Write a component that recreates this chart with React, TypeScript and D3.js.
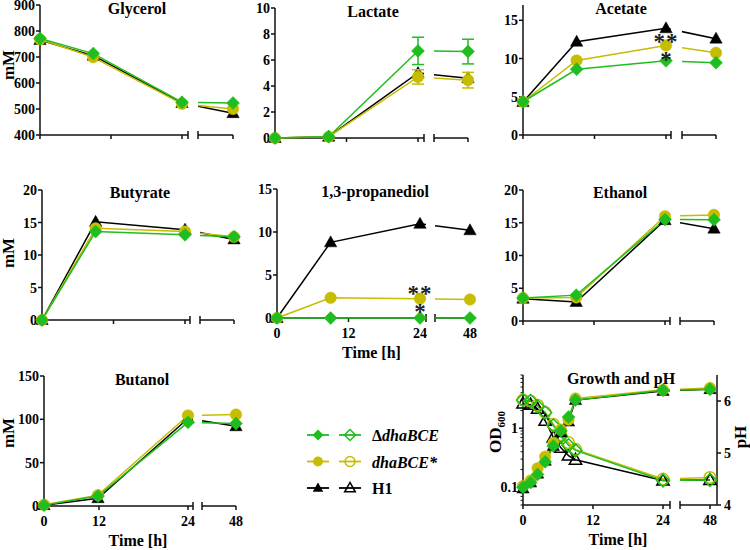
import React from 'react';
import * as d3 from 'd3';

const GREEN = '#1fbd1f';
const YELLOW = '#c6bd00';
const BLACK = '#000000';
const FONT = '"Liberation Serif", "Times New Roman", serif';

// ---------- data ----------
const hours = [0, 9, 24, 48];
const xTickVals = [0, 12, 24, 48];

const glyTicks = [400, 500, 600, 700, 800, 900];
const glyH1 = [765, 705, 523, 484];
const glyStar = [768, 699, 520, 500];
const glyDelta = [771, 713, 526, 523];

const lacTicks = [0, 2, 4, 6, 8, 10];
const lacH1 = [0, 0.1, 5.0, 4.6];
const lacStar = [0, 0.1, 4.7, 4.45];
const lacStarErr = [0, 0, 0.55, 0.6];
const lacDelta = [0, 0.1, 6.7, 6.65];
const lacDeltaErr = [0, 0, 1.05, 0.95];

const aceTicks = [0, 5, 10, 15];
const aceH1 = [4.3, 12.2, 13.95, 12.6];
const aceStar = [4.35, 9.75, 11.7, 10.75];
const aceDelta = [4.35, 8.6, 9.7, 9.45];

const butyTicks = [0, 5, 10, 15, 20];
const butyH1 = [0, 15.1, 13.9, 12.4];
const butyStar = [0, 14.1, 13.6, 12.8];
const butyDelta = [0, 13.6, 13.1, 12.8];

const pdoTicks = [0, 5, 10, 15];
const pdoH1 = [0, 8.8, 10.95, 10.2];
const pdoStar = [0, 2.35, 2.25, 2.15];
const pdoDelta = [0, 0, 0, 0];

const ethTicks = [0, 5, 10, 15, 20];
const ethH1 = [3.4, 2.9, 15.4, 14.1];
const ethStar = [3.5, 3.6, 16.0, 16.2];
const ethDelta = [3.5, 3.95, 15.5, 15.45];

const butTicks = [0, 50, 100, 150];
const butH1 = [1, 9, 101, 92];
const butStar = [1.5, 12.5, 104.5, 105.5];
const butDelta = [1, 11.5, 96.5, 95.2];

const growthTimes = [0, 1.3, 2.5, 3.8, 5.2, 6.5, 7.8, 9, 24, 48];
const odH1 = [0.095, 0.12, 0.17, 0.28, 0.5, 0.85, 1.3, 3.0, 4.3, 4.6];
const odStar = [0.105, 0.13, 0.21, 0.33, 0.56, 0.95, 1.4, 3.2, 4.5, 4.8];
const odDelta = [0.1, 0.12, 0.165, 0.27, 0.5, 0.9, 1.55, 3.0, 4.4, 4.6];
const phH1 = [5.95, 5.93, 5.85, 5.62, 5.3, 5.1, 4.95, 4.87, 4.47, 4.48];
const phStar = [6.02, 6.0, 5.92, 5.78, 5.55, 5.35, 5.2, 5.07, 4.5, 4.53];
const phDelta = [6.02, 6.0, 5.9, 5.78, 5.53, 5.32, 5.15, 5.05, 4.47, 4.48];
const odTicks = [0.1, 1];
const odMinor = [0.05, 0.06, 0.07, 0.08, 0.09, 0.2, 0.3, 0.4, 0.5, 0.6, 0.7, 0.8, 0.9, 2, 3, 4, 5, 6, 7, 8];
const phTicks = [4, 5, 6];

// ---------- helpers ----------
type Shape = 'diamond' | 'circle' | 'triangle';
const shapePath = (s: Shape): string => {
  if (s === 'diamond') return 'M0,-6.5L6.5,0L0,6.5L-6.5,0Z';
  if (s === 'circle') return d3.symbol(d3.symbolCircle, 105)() as string;
  return 'M0,-6.5L6.2,4.5L-6.2,4.5Z';
};

interface Ax { x0: number; x24: number; s1End: number; s2Start: number; x48: number; s2End: number; yB: number; yT: number; t12?: number; }
interface Ser { color: string; shape: Shape; values: number[]; times: number[]; err?: number[]; open?: boolean; right?: boolean; }

function makeX(ax: Ax) {
  const s1 = d3.scaleLinear().domain([0, 24]).range([ax.x0, ax.x24]);
  const pxh = (ax.x24 - ax.x0) / 24;
  const s2 = d3.scaleLinear().domain([48 - (ax.x48 - ax.s2Start) / pxh, 48]).range([ax.s2Start, ax.x48]);
  return (t: number) => (t <= 24.5 ? s1(t) : s2(t));
}

function std(color: string, shape: Shape, values: number[], err?: number[]): Ser {
  return { color, shape, values, times: hours, err };
}

interface PanelProps {
  id: string; ax: Ax; title: string; titleX: number; titleY: number;
  yDomain: [number, number]; yTicks: number[]; series: Ser[];
  xLabels?: boolean; mM?: number; log?: boolean;
  rightDomain?: [number, number];
}

function Panel(p: PanelProps) {
  const { ax } = p;
  const xf = makeX(ax);
  const tickX = (t: number) => (t === 12 && ax.t12 !== undefined ? ax.t12 : xf(t));
  const y = p.log
    ? d3.scaleLog().domain(p.yDomain).range([ax.yB, ax.yT])
    : d3.scaleLinear().domain(p.yDomain).range([ax.yB, ax.yT]);
  const yr = p.rightDomain ? d3.scaleLinear().domain(p.rightDomain).range([ax.yB, ax.yT]) : null;
  const sy = (s: Ser) => (s.right && yr ? yr : y);
  const lineFor = (s: Ser) =>
    d3.line<number>().x((_, i) => xf(s.times[i])).y((d) => sy(s)(d) as number)(s.values) as string;
  const axStyle = { stroke: '#111', strokeWidth: 1.5, fill: 'none' };
  const txt = { fontFamily: FONT, fontWeight: 700 as const, fill: '#000' };
  return (
    <g>
      <defs>
        <clipPath id={`c1-${p.id}`}>
          <rect x={ax.x0 - 30} y={0} width={ax.s1End - ax.x0 + 30} height={550} />
        </clipPath>
        <clipPath id={`c2-${p.id}`}>
          <rect x={ax.s2Start} y={0} width={120} height={550} />
        </clipPath>
      </defs>
      <line x1={ax.x0} x2={ax.x0} y1={ax.yB} y2={ax.yT} style={axStyle} />
      {p.yTicks.map((t) => (
        <g key={t}>
          <line x1={ax.x0 - 4} x2={ax.x0} y1={y(t) as number} y2={y(t) as number} style={axStyle} />
          <text x={ax.x0 - 5} y={(y(t) as number) + 5} textAnchor="end" fontSize={14} style={txt}>
            {String(t)}
          </text>
        </g>
      ))}
      {p.log &&
        odMinor.map((t) => (
          <line key={t} x1={ax.x0 - 2.5} x2={ax.x0} y1={y(t) as number} y2={y(t) as number} style={{ ...axStyle, strokeWidth: 1 }} />
        ))}
      {yr && (
        <g>
          <line x1={ax.s2End} x2={ax.s2End} y1={ax.yB} y2={ax.yT} style={axStyle} />
          {phTicks.map((t) => (
            <g key={t}>
              <line x1={ax.s2End} x2={ax.s2End + 4} y1={yr(t)} y2={yr(t)} style={axStyle} />
              <text x={ax.s2End + 7} y={yr(t) + 5} fontSize={14} style={txt}>
                {String(t)}
              </text>
            </g>
          ))}
        </g>
      )}
      <line x1={ax.x0} x2={ax.s1End} y1={ax.yB} y2={ax.yB} style={axStyle} />
      <line x1={ax.s2Start} x2={ax.s2End} y1={ax.yB} y2={ax.yB} style={axStyle} />
      <line x1={ax.s1End} x2={ax.s1End} y1={ax.yB - 4} y2={ax.yB + 4} style={axStyle} />
      <line x1={ax.s2Start} x2={ax.s2Start} y1={ax.yB - 4} y2={ax.yB + 4} style={axStyle} />
      {xTickVals.map((t) => (
        <g key={t}>
          <line x1={tickX(t)} x2={tickX(t)} y1={ax.yB} y2={ax.yB + 4} style={axStyle} />
          {p.xLabels && (
            <text x={tickX(t)} y={ax.yB + 20} textAnchor="middle" fontSize={14} style={txt}>
              {String(t)}
            </text>
          )}
        </g>
      ))}
      {p.xLabels && (
        <text x={(ax.x0 + ax.s2End) / 2 - 2} y={ax.yB + 40} textAnchor="middle" fontSize={16} style={txt}>
          Time [h]
        </text>
      )}
      {p.mM !== undefined && (
        <text transform={`translate(14,${p.mM}) rotate(-90)`} textAnchor="middle" fontSize={17} style={txt}>
          mM
        </text>
      )}
      {p.series.map((s, i) => (
        <g key={`l${i}`}>
          <path d={lineFor(s)} stroke={s.color} strokeWidth={1.5} fill="none" clipPath={`url(#c1-${p.id})`} />
          <path d={lineFor(s)} stroke={s.color} strokeWidth={1.5} fill="none" clipPath={`url(#c2-${p.id})`} />
        </g>
      ))}
      {p.series.map((s, i) => (
        <g key={`m${i}`}>
          {s.err &&
            s.values.map((v, j) => {
              const e = s.err![j];
              if (!e) return null;
              const cx = xf(s.times[j]);
              const y1 = sy(s)(v + e) as number;
              const y2 = sy(s)(v - e) as number;
              return (
                <g key={j} stroke={s.color} strokeWidth={1.5}>
                  <line x1={cx} x2={cx} y1={y1} y2={y2} />
                  <line x1={cx - 6} x2={cx + 6} y1={y1} y2={y1} />
                  <line x1={cx - 6} x2={cx + 6} y1={y2} y2={y2} />
                </g>
              );
            })}
          {s.values.map((v, j) => (
            <path
              key={j}
              d={shapePath(s.shape)}
              transform={`translate(${xf(s.times[j])},${sy(s)(v)})`}
              fill={s.open ? 'none' : s.color}
              stroke={s.color}
              strokeWidth={s.open ? 1.5 : 0.5}
            />
          ))}
        </g>
      ))}
      <text x={p.titleX} y={p.titleY} textAnchor="middle" fontSize={16} style={txt}>
        {p.title}
      </text>
    </g>
  );
}

function Stars({ x, y1, y2 }: { x: number; y1: number; y2: number }) {
  const st = { fontFamily: FONT, fontSize: 23, fontWeight: 700 as const, fill: '#222' };
  return (
    <g>
      <text x={x} y={y1 + 11} textAnchor="middle" letterSpacing={1} style={st}>**</text>
      <text x={x} y={y2 + 11} textAnchor="middle" style={st}>*</text>
    </g>
  );
}

const legendItems = [
  { label: 'dhaBCE', delta: true, color: GREEN, shape: 'diamond' as Shape },
  { label: 'dhaBCE*', delta: false, color: YELLOW, shape: 'circle' as Shape },
  { label: 'H1', delta: false, color: BLACK, shape: 'triangle' as Shape },
];

function Legend() {
  return (
    <g>
      {legendItems.map((it, i) => {
        const cy = 435 + i * 26.5;
        return (
          <g key={it.label}>
            <line x1={307} x2={329} y1={cy} y2={cy} stroke={it.color} strokeWidth={1.8} />
            <path d={shapePath(it.shape)} transform={`translate(318,${cy}) scale(0.85)`} fill={it.color} />
            <line x1={339} x2={361} y1={cy} y2={cy} stroke={it.color} strokeWidth={1.8} />
            <path d={shapePath(it.shape)} transform={`translate(350,${cy}) scale(0.85)`} fill="none" stroke={it.color} strokeWidth={1.8} />
            <text x={372} y={cy + 6} fontSize={16} style={{ fontFamily: FONT, fontWeight: 700 }}>
              {it.delta && <tspan fontStyle="normal">Δ</tspan>}
              <tspan fontStyle={it.label === 'H1' ? 'normal' : 'italic'}>{it.label}</tspan>
            </text>
          </g>
        );
      })}
    </g>
  );
}

function trio(h1: number[], st: number[], de: number[], stErr?: number[], deErr?: number[]): Ser[] {
  return [std(BLACK, 'triangle', h1), std(YELLOW, 'circle', st, stErr), std(GREEN, 'diamond', de, deErr)];
}

export default function App() {
  const growthSeries: Ser[] = [
    { color: BLACK, shape: 'triangle', values: phH1, times: growthTimes, open: true, right: true },
    { color: YELLOW, shape: 'circle', values: phStar, times: growthTimes, open: true, right: true },
    { color: GREEN, shape: 'diamond', values: phDelta, times: growthTimes, open: true, right: true },
    { color: BLACK, shape: 'triangle', values: odH1, times: growthTimes },
    { color: YELLOW, shape: 'circle', values: odStar, times: growthTimes },
    { color: GREEN, shape: 'diamond', values: odDelta, times: growthTimes },
  ];
  return (
    <svg width={750} height={550} style={{ position: 'absolute', left: 0, top: 0, background: '#fff' }}>
      <rect width={750} height={550} fill="#fff" />
      <Panel id="gly" ax={{ x0: 40, x24: 182, s1End: 188, s2Start: 198, x48: 233, s2End: 233, yB: 135, yT: 5 }}
        title="Glycerol" titleX={137} titleY={14} yDomain={[400, 900]} yTicks={glyTicks}
        series={trio(glyH1, glyStar, glyDelta)} mM={65} />
      <Panel id="lac" ax={{ x0: 275, x24: 418, s1End: 424, s2Start: 434, x48: 468, s2End: 468, yB: 138, yT: 8 }}
        title="Lactate" titleX={373} titleY={17} yDomain={[0, 10]} yTicks={lacTicks}
        series={trio(lacH1, lacStar, lacDelta, lacStarErr, lacDeltaErr)} />
      <Panel id="ace" ax={{ x0: 523, x24: 666, s1End: 671, s2Start: 682, x48: 716, s2End: 716, yB: 135, yT: 5 }}
        title="Acetate" titleX={621} titleY={14} yDomain={[0, 17]} yTicks={aceTicks}
        series={trio(aceH1, aceStar, aceDelta)} />
      <Stars x={666} y1={38} y2={56} />
      <Panel id="buty" ax={{ x0: 42, x24: 185, s1End: 190, s2Start: 200, x48: 234, s2End: 234, yB: 320, yT: 190 }}
        title="Butyrate" titleX={140} titleY={198} yDomain={[0, 20]} yTicks={butyTicks}
        series={trio(butyH1, butyStar, butyDelta)} mM={253} />
      <Panel id="pdo" ax={{ x0: 277, x24: 420, s1End: 426, s2Start: 435, x48: 470, s2End: 470, yB: 318, yT: 189 }}
        title="1,3-propanediol" titleX={375} titleY={197} yDomain={[0, 15]} yTicks={pdoTicks}
        series={trio(pdoH1, pdoStar, pdoDelta)} xLabels />
      <Stars x={420} y1={290} y2={308} />
      <Panel id="eth" ax={{ x0: 523, x24: 665, s1End: 670, s2Start: 680, x48: 714, s2End: 714, yB: 321, yT: 190 }}
        title="Ethanol" titleX={620} titleY={198} yDomain={[0, 20]} yTicks={ethTicks}
        series={trio(ethH1, ethStar, ethDelta)} />
      <Panel id="but" ax={{ x0: 44, x24: 188, s1End: 193, s2Start: 202, x48: 236, s2End: 236, yB: 506, yT: 376, t12: 99 }}
        title="Butanol" titleX={142} titleY={385} yDomain={[0, 150]} yTicks={butTicks}
        series={trio(butH1, butStar, butDelta)} xLabels mM={433} />
      <Panel id="gro" ax={{ x0: 523, x24: 663, s1End: 670, s2Start: 680, x48: 710, s2End: 717, yB: 505, yT: 375 }}
        title="Growth and pH" titleX={621} titleY={384} yDomain={[0.05, 8]} yTicks={odTicks}
        series={growthSeries} xLabels log rightDomain={[4, 6.5]} />
      <text transform="translate(501,432) rotate(-90)" textAnchor="middle" fontSize={17}
        style={{ fontFamily: FONT, fontWeight: 700 }}>
        OD<tspan fontSize={11} dy={4}>600</tspan>
      </text>
      <text transform="translate(746,437) rotate(-90)" textAnchor="middle" fontSize={17}
        style={{ fontFamily: FONT, fontWeight: 700 }}>
        pH
      </text>
      <Legend />
    </svg>
  );
}
